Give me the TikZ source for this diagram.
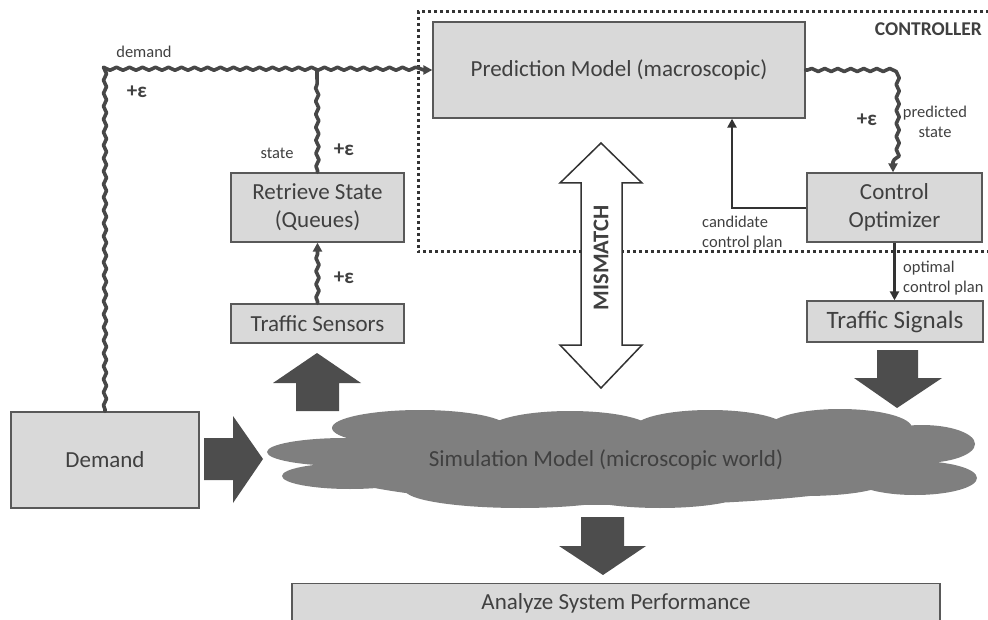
\documentclass[tikz,border=0pt]{standalone}
\usepackage{fontspec}
\setmainfont{Carlito}
\usetikzlibrary{arrows.meta,decorations.pathmorphing}
\definecolor{boxfill}{HTML}{D9D9D9}
\definecolor{boxline}{HTML}{595959}
\definecolor{txt}{HTML}{404040}
\definecolor{blockc}{HTML}{4D4D4D}
\definecolor{cloudc}{HTML}{7F7F7F}
\definecolor{wavec}{HTML}{474747}
\definecolor{dotc}{HTML}{333333}
\tikzset{
  box/.style={draw=boxline, fill=boxfill, line width=1.3pt, inner sep=0pt, align=center, text=txt, font=\fontsize{23}{28}\selectfont},
  wav/.style={draw=wavec, line width=3.6pt, line join=round, line cap=round, decorate, decoration={snake, amplitude=1.5pt, segment length=13pt, pre length=2pt, post length=8pt}},
  plainarr/.style={draw=dotc, line width=2.6pt},
  lbl/.style={text=txt, font=\fontsize{16.5}{20}\selectfont, align=center, inner sep=0pt},
  epsl/.style={text=txt, font=\bfseries\fontsize{21}{24}\selectfont, inner sep=0pt},
  blk/.style={fill=blockc, draw=none},
  tip/.style={-{Triangle[length=9pt,width=9pt]}},
}
\begin{document}
\begin{tikzpicture}[x=1pt,y=-1pt]
\useasboundingbox (0,0) rectangle (988,620);
\clip (0,0) rectangle (988,620);

% controller dotted frame
\draw[dotc, line width=3pt, dash pattern=on 3pt off 3pt] (995,12) -- (418,12) -- (418,252) -- (995,252);
\node[text=txt, font=\bfseries\fontsize{19.5}{22}\selectfont, anchor=east, inner sep=0pt] (ctl) at (982,29) {CONTROLLER};

% cloud
\fill[cloudc]
  (345,452) ellipse [x radius=78, y radius=14]
  (350,476) ellipse [x radius=68, y radius=13]
  (420,428) ellipse [x radius=88, y radius=18]
  (570,430) ellipse [x radius=82, y radius=19]
  (710,428) ellipse [x radius=76, y radius=18]
  (840,428) ellipse [x radius=72, y radius=19]
  (922,444) ellipse [x radius=53, y radius=19]
  (915,478) ellipse [x radius=62, y radius=17]
  (620,465) ellipse [x radius=300, y radius=40]
  (520,490) ellipse [x radius=115, y radius=18]
  (660,490) ellipse [x radius=90, y radius=18]
  (805,482) ellipse [x radius=80, y radius=14];
\node[text=txt, font=\fontsize{23}{28}\selectfont, inner sep=0pt] (sim) at (606,460) {Simulation Model (microscopic world)};

% boxes
\node[box, minimum width=372pt, minimum height=96pt] (pred) at (619,70) {Prediction Model (macroscopic)};
\node[box, minimum width=175pt, minimum height=69pt] (ctrl) at (894.5,207.5) {Control\\Optimizer};
\node[box, minimum width=176pt, minimum height=41pt, font=\fontsize{25}{28}\selectfont] (sig) at (895,321.5) {Traffic Signals};
\node[box, minimum width=173pt, minimum height=69pt] (ret) at (317.5,207.5) {Retrieve State\\(Queues)};
\node[box, minimum width=173pt, minimum height=39pt] (sens) at (317.5,323.5) {Traffic Sensors};
\node[box, minimum width=188pt, minimum height=96pt] (dem) at (105,460) {Demand};
\node[box, minimum width=648pt, minimum height=60pt, anchor=north] (ana) at (616,583) {};
\node[text=txt, font=\fontsize{23}{28}\selectfont, inner sep=0pt] (anatext) at (616,603) {Analyze System Performance};

% block arrows
\fill[blk] (204,438) -- (233,438) -- (233,416) -- (263,459) -- (233,503) -- (233,480) -- (204,480) -- cycle;
\fill[blk] (296,411) -- (296,383) -- (273,383) -- (317,353) -- (361,383) -- (339,383) -- (339,411) -- cycle;
\fill[blk] (877,350) -- (918,350) -- (918,378) -- (942,378) -- (897,408) -- (854,378) -- (877,378) -- cycle;
\fill[blk] (581,517) -- (624,517) -- (624,546) -- (646,546) -- (603,575) -- (559,546) -- (581,546) -- cycle;

% mismatch double arrow
\filldraw[fill=white, draw=dotc, line width=1.5pt]
  (601,143) -- (642,183) -- (622,183) -- (622,345) -- (642,345) -- (601,388) -- (560,345) -- (581,345) -- (581,183) -- (560,183) -- cycle;
\node[text=txt, font=\bfseries\fontsize{22.5}{26}\selectfont, rotate=90, inner sep=0pt] (mis) at (601,258) {MISMATCH};

% wavy connectors
\coordinate (j) at (317,70);
\draw[wav, tip] (dem.north) -- (105,70) -- (pred.west);
\draw[wav] (ret.north) -- (j);
\draw[wav, tip] (sens.north) -- (ret.south);
\draw[wav, tip] (pred.east) -- (893,70) -- (ctrl.north -| 893,0);

% plain arrows
\draw[plainarr, tip] (ctrl.west |- 0,208) -- (732,208) -- (pred.south -| 732,0);
\draw[plainarr, tip, line width=2.3pt] (ctrl.south) -- (sig.north -| ctrl.south);

% labels
\node[lbl] (lbdem) at (144,52) {demand};
\node[epsl] (e1) at (137,92) {+ε};
\node[lbl] (lbstate) at (277,153) {state};
\node[epsl] (e2) at (344,150) {+ε};
\node[epsl] (e3) at (344,278) {+ε};
\node[epsl] (e4) at (867,120) {+ε};
\node[lbl] (lbpred) at (935,122) {predicted\\state};
\node[lbl, align=left, anchor=west] (lbcand) at (702,233) {candidate\\control plan};
\node[lbl, align=left, anchor=west] (lbopt) at (903,278) {optimal\\control plan};
\end{tikzpicture}
\end{document}
